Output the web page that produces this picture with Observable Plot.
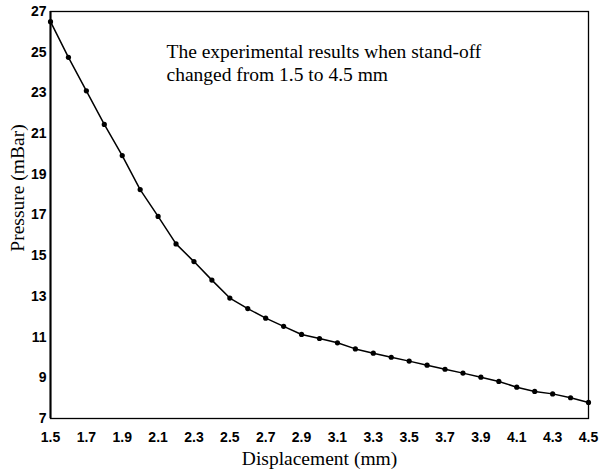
<!DOCTYPE html>
<html>
<head>
<meta charset="utf-8">
<script src="https://cdn.jsdelivr.net/npm/d3@7"></script>
<script src="https://cdn.jsdelivr.net/npm/@observablehq/plot@0.6"></script>
<style>
  html, body { margin: 0; padding: 0; background: #fff; }
</style>
</head>
<body>
<div id="chart"></div>
<script>
const displacement = [1.5,1.6,1.7,1.8,1.9,2.0,2.1,2.2,2.3,2.4,2.5,2.6,2.7,2.8,2.9,3.0,3.1,3.2,3.3,3.4,3.5,3.6,3.7,3.8,3.9,4.0,4.1,4.2,4.3,4.4,4.5];
const pressure = [26.5,24.75,23.1,21.45,19.92,18.25,16.93,15.58,14.71,13.8,12.92,12.4,11.93,11.53,11.13,10.93,10.72,10.42,10.21,10.01,9.82,9.62,9.42,9.23,9.03,8.82,8.54,8.33,8.21,8.02,7.79];
const xTicks = [1.5,1.7,1.9,2.1,2.3,2.5,2.7,2.9,3.1,3.3,3.5,3.7,3.9,4.1,4.3,4.5];
const yTicks = [7,9,11,13,15,17,19,21,23,25,27];
const xLabel = "Displacement (mm)";
const yLabel = "Pressure (mBar)";
const note = ["The experimental results when stand-off", "changed from 1.5 to 4.5 mm"];

const data = displacement.map((d, i) => ({x: d, y: pressure[i]}));

const chart = Plot.plot({
  width: 603,
  height: 470,
  marginLeft: 50,
  marginRight: 15,
  marginTop: 11,
  marginBottom: 52,
  style: {background: "#fff", color: "#000"},
  x: {domain: [1.5, 4.5]},
  y: {domain: [7, 27]},
  marks: [
    Plot.axisX({ticks: xTicks, tickFormat: d3.format(".1f"), tickSize: 0, tickPadding: 14, label: null,
      fontFamily: "Liberation Sans, Arial, sans-serif", fontWeight: "bold", fontSize: 14}),
    Plot.axisY({ticks: yTicks, tickFormat: d => d, tickSize: 0, tickPadding: 4, label: null,
      fontFamily: "Liberation Sans, Arial, sans-serif", fontWeight: "bold", fontSize: 14}),
    Plot.frame({stroke: "#000", strokeWidth: 1.3}),
    Plot.ruleX([1.5], {stroke: "#000", strokeWidth: 2}),
    Plot.line(data, {x: "x", y: "y", stroke: "#000", strokeWidth: 1.5}),
    Plot.dot(data, {x: "x", y: "y", fill: "#000", r: 2.6}),
    Plot.text([note.join("\n")], {frameAnchor: "top-left", dx: 116, dy: 31, textAnchor: "start", lineAnchor: "top",
      lineHeight: 1.15, fontFamily: "Liberation Serif, Times New Roman, serif", fontSize: 19.5, fill: "#000"}),
    Plot.text([xLabel], {frameAnchor: "bottom", dy: 46, lineAnchor: "bottom", textAnchor: "middle",
      fontFamily: "Liberation Serif, Times New Roman, serif", fontSize: 19.5, fill: "#000"}),
    Plot.text([yLabel], {frameAnchor: "left", dx: -33, dy: -27, rotate: -90, lineAnchor: "middle", textAnchor: "middle",
      fontFamily: "Liberation Serif, Times New Roman, serif", fontSize: 19.5, fill: "#000"})
  ]
});
document.getElementById("chart").appendChild(chart);
</script>
</body>
</html>
